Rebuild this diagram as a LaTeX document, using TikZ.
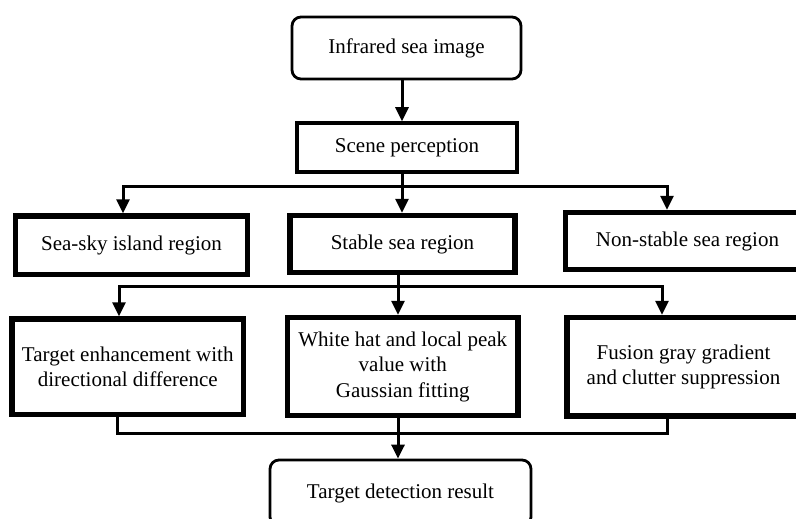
\documentclass[tikz,border=0pt]{standalone}
\usepackage{fontspec}
\setmainfont{Liberation Serif}
\usetikzlibrary{arrows.meta}
\begin{document}
\begin{tikzpicture}[x=1pt,y=-1pt,
  every node/.style={font=\fontsize{21}{25.5}\selectfont, align=center, inner sep=0pt},
  rbox/.style={draw, line width=2.8pt, rounded corners=9pt},
  sbox/.style={draw, line width=3.5pt},
  tbox/.style={draw, line width=5.5pt},
  conn/.style={line width=3pt, line join=miter},
  arr/.style={conn, -{Triangle[length=14pt,width=13pt]}}]
\fill[white] (0,0) rectangle (796,519);
\useasboundingbox (0,0) rectangle (796,519);
\clip (0,0) rectangle (796,519);

\node[rbox, minimum width=229pt, minimum height=62pt] (top) at (406.5,48) {Infrared sea image};
\node[sbox, minimum width=220pt, minimum height=49pt] (scene) at (407,147.5) {Scene perception};

\node[tbox, minimum width=232pt, minimum height=58.5pt] (seasky) at (131.5,245.25) {Sea-sky island region};
\node[tbox, minimum width=225pt, minimum height=57pt] (stable) at (402.5,244) {Stable sea region};
\node[tbox, minimum width=244pt, minimum height=57pt] (nonstable) at (687.5,241) {Non-stable sea region};

\node[tbox, minimum width=231.5pt, minimum height=95.5pt] (targ) at (127.75,366.75) {Target enhancement with\\directional difference};
\node[tbox, minimum width=230.5pt, minimum height=98pt] (white) at (402.75,366.5) {White hat and local peak\\value with\\Gaussian fitting};
\node[tbox, minimum width=233pt, minimum height=98.5pt] (fusion) at (683.5,366.75) {Fusion gray gradient\\and clutter suppression};

\node[rbox, minimum width=261pt, minimum height=66pt] (result) at (400.5,493) {Target detection result};

\coordinate (j0) at (402,100);
\coordinate (a1) at (123,186);
\coordinate (a2) at (402,186);
\coordinate (a3) at (667,186);
\coordinate (c1) at (119,286);
\coordinate (c2) at (398,286);
\coordinate (c3) at (662,286);
\coordinate (b1) at (117,433);
\coordinate (b3) at (667,433);
\coordinate (m) at (398,440);

\draw[arr] (top.south -| j0) -- (scene.north -| j0);

\draw[arr] (scene.south -| a2) -- (a2) -| (seasky.north -| a1);
\draw[arr] (a2) -| (nonstable.north -| a3);
\draw[arr] (a2) -- (stable.north -| a2);

\draw[arr] (stable.south -| c2) -- (c2) -| (targ.north -| c1);
\draw[arr] (c2) -| (fusion.north -| c3);
\draw[arr] (c2) -- (white.north -| c2);

\draw[conn] (targ.south -| b1) -- (b1) -- (b3) -- (fusion.south -| b3);
\draw[arr] (white.south -| m) -- (result.north -| m);
\end{tikzpicture}
\end{document}
